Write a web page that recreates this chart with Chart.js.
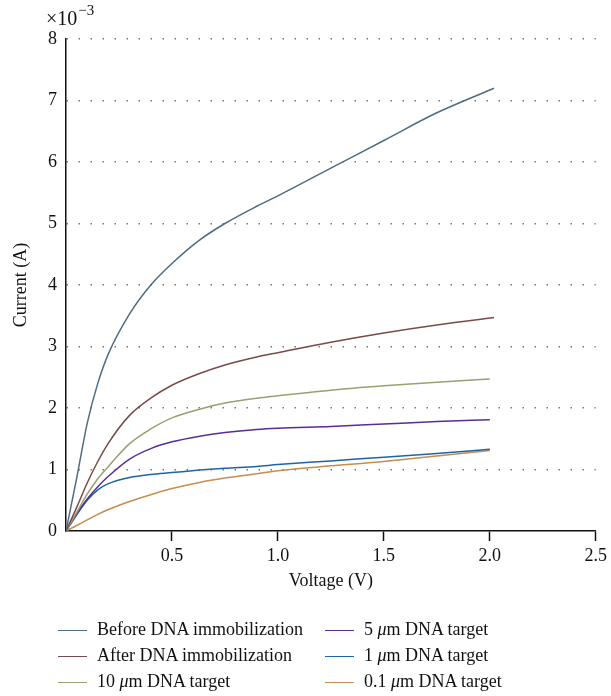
<!DOCTYPE html>
<html>
<head>
<meta charset="utf-8">
<script src="https://cdn.jsdelivr.net/npm/chart.js@4"></script>
<style>
  body { margin: 0; background: #fff; }
  #wrap { position: relative; width: 611px; height: 696px; }
  #legend { position: absolute; left: 0; top: 0; font-family: 'Liberation Serif', 'DejaVu Serif', serif; font-size: 18px; color: #111; }
  .item { position: absolute; height: 26px; line-height: 26px; white-space: nowrap; }
  .swatch { display: inline-block; width: 29px; height: 0; border-top: 1.5px solid; vertical-align: middle; margin-right: 10px; }
</style>
</head>
<body>
<div id="wrap">
  <canvas id="ivChart" width="611" height="696"></canvas>
  <div id="legend"></div>
</div>
<script>
// voltage (V) shared by all curves; each curve has its own last point
const voltage = [0, 0.05, 0.1, 0.15, 0.2, 0.3, 0.4, 0.5, 0.63, 0.75, 0.9, 1.0, 1.25, 1.5, 1.75];
const endVoltage = [2.02, 2.02, 2.0, 2.0, 2.0, 2.0];

// current in units of 1e-3 A
const beforeImmob = [0, 0.85, 1.75, 2.4, 2.88, 3.53, 4.0, 4.35, 4.73, 5.0, 5.28, 5.45, 5.9, 6.35, 6.8, 7.2];
const afterImmob  = [0, 0.38, 0.78, 1.13, 1.43, 1.88, 2.16, 2.37, 2.56, 2.7, 2.83, 2.9, 3.07, 3.22, 3.35, 3.47];
const target10    = [0, 0.3, 0.6, 0.85, 1.05, 1.42, 1.66, 1.84, 1.98, 2.08, 2.16, 2.2, 2.29, 2.36, 2.42, 2.47];
const target5     = [0, 0.28, 0.52, 0.72, 0.89, 1.17, 1.34, 1.45, 1.54, 1.6, 1.65, 1.67, 1.7, 1.74, 1.78, 1.81];
const target1     = [0, 0.26, 0.5, 0.67, 0.77, 0.87, 0.92, 0.95, 0.99, 1.02, 1.05, 1.08, 1.14, 1.2, 1.26, 1.33];
const target01    = [0, 0.09, 0.18, 0.27, 0.35, 0.48, 0.59, 0.69, 0.79, 0.86, 0.93, 0.98, 1.06, 1.13, 1.22, 1.31];

const labels = [
    'Before DNA immobilization',
    'After DNA immobilization',
    '10 μm DNA target',
    '5 μm DNA target',
    '1 μm DNA target',
    '0.1 μm DNA target',
];
const colors = ['#4e6c82', '#7a4a4a', '#9aa070', '#5a2d96', '#2064a4', '#c88c50'];
const xTicks = [0.5, 1.0, 1.5, 2.0, 2.5];

const FONT = "'Liberation Serif', 'DejaVu Serif', serif";
const series = [beforeImmob, afterImmob, target10, target5, target1, target01];

function toPoints(values, i) {
    return values.map((y, k) => ({ x: k < voltage.length ? voltage[k] : endVoltage[i], y: y }));
}

const exponentLabel = {
    id: 'exponentLabel',
    afterDraw(chart) {
        const ctx = chart.ctx;
        ctx.save();
        ctx.fillStyle = '#111';
        ctx.textBaseline = 'alphabetic';
        ctx.font = '20px ' + FONT;
        ctx.fillText('×10', 46, 25);
        const w = ctx.measureText('×10').width;
        ctx.font = '15px ' + FONT;
        ctx.fillText('−3', 46 + w + 1, 15);
        ctx.restore();
    }
};

const ctx = document.getElementById('ivChart').getContext('2d');
new Chart(ctx, {
    type: 'line',
    data: {
        datasets: series.map((values, i) => ({
            label: labels[i],
            data: toPoints(values, i),
            borderColor: colors[i],
            backgroundColor: colors[i],
            borderWidth: 1.5,
            pointRadius: 0,
            cubicInterpolationMode: 'monotone',
            fill: false,
        })),
    },
    options: {
        responsive: false,
        animation: false,
        layout: { padding: { top: 39, right: 14, left: 0, bottom: 0 } },
        plugins: {
            legend: { display: false },
            tooltip: { enabled: false },
        },
        scales: {
            x: {
                type: 'linear',
                min: 0,
                max: 2.5,
                afterBuildTicks(scale) {
                    scale.ticks = [0].concat(xTicks).map(v => ({ value: v }));
                },
                afterFit(scale) { scale.height = 165; },
                ticks: {
                    font: { family: FONT, size: 18 },
                    color: '#111',
                    padding: 4,
                    maxRotation: 0,
                    callback: v => (v === 0 ? '' : v.toFixed(1)),
                },
                grid: {
                    drawOnChartArea: false,
                    drawTicks: true,
                    tickLength: 10,
                    tickWidth: 1.5,
                    tickColor: c => (c.tick && c.tick.value === 0 ? 'rgba(0,0,0,0)' : '#111'),
                },
                border: { display: true, color: '#111', width: 1.5 },
                title: {
                    display: true,
                    text: 'Voltage (V)',
                    font: { family: FONT, size: 18 },
                    color: '#111',
                    padding: { top: 0, bottom: 104 },
                },
            },
            y: {
                min: 0,
                max: 8,
                afterFit(scale) { scale.width = 66; },
                ticks: {
                    stepSize: 1,
                    font: { family: FONT, size: 18 },
                    color: '#111',
                    padding: 9,
                },
                grid: {
                    drawTicks: false,
                    color: c => (c.tick && c.tick.value === 0 ? 'rgba(0,0,0,0)' : '#777'),
                    lineWidth: 1.5,
                },
                border: { display: true, color: '#111', width: 1.5, dash: [1.5, 10.5], dashOffset: -12 },
                title: {
                    display: true,
                    text: 'Current (A)',
                    font: { family: FONT, size: 18 },
                    color: '#111',
                    padding: { top: 10, bottom: 0 },
                },
            },
        },
    },
    plugins: [exponentLabel],
});

// two-column legend under the plot
const legend = document.getElementById('legend');
labels.forEach((label, i) => {
    const col = Math.floor(i / 3);
    const row = i % 3;
    const item = document.createElement('div');
    item.className = 'item';
    item.style.left = (col === 0 ? 58 : 325) + 'px';
    item.style.top = (616 + row * 26) + 'px';
    const sw = document.createElement('span');
    sw.className = 'swatch';
    sw.style.borderColor = colors[i];
    item.appendChild(sw);
    const parts = label.split('μ');
    item.appendChild(document.createTextNode(parts[0]));
    if (parts.length > 1) {
        const mu = document.createElement('i');
        mu.textContent = 'μ';
        item.appendChild(mu);
        item.appendChild(document.createTextNode(parts[1]));
    }
    legend.appendChild(item);
});
</script>
</body>
</html>
